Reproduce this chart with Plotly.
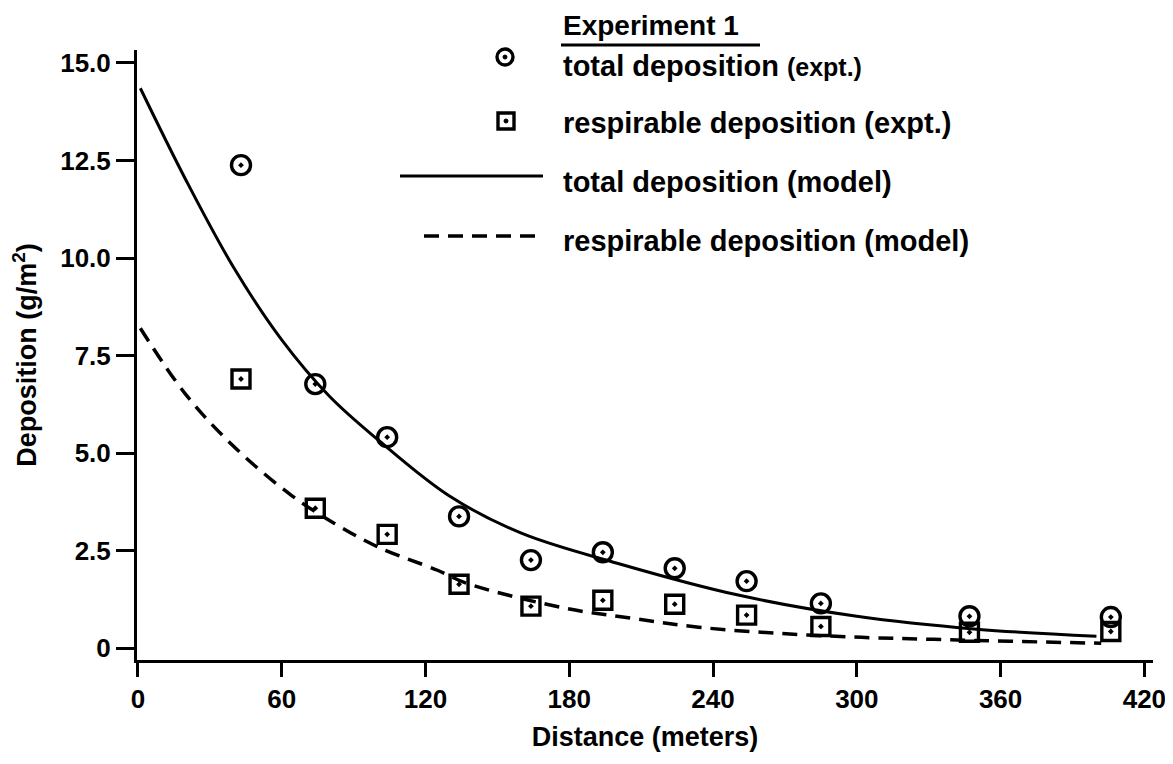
import plotly.graph_objects as go

# ---- data ----
dist_expt = [43, 74, 104, 134, 164, 194, 224, 254, 285, 347, 406]
total_expt = [12.38, 6.77, 5.41, 3.38, 2.26, 2.46, 2.05, 1.72, 1.15, 0.82, 0.80]
resp_expt = [6.90, 3.59, 2.92, 1.64, 1.08, 1.23, 1.13, 0.85, 0.56, 0.41, 0.43]

dist_model_total = [1, 20, 40, 60, 80, 100, 130, 160, 200, 250, 300, 350, 400]
total_model = [14.35, 12.0, 9.75, 7.9, 6.45, 5.35, 3.9, 2.95, 2.18, 1.37, 0.82, 0.49, 0.31]

dist_model_resp = [1, 20, 40, 64, 82, 100, 125, 137, 178, 206, 234, 268, 302, 332, 364, 402]
resp_model = [8.2, 6.5, 5.17, 3.92, 3.2, 2.6, 2.0, 1.67, 1.03, 0.77, 0.54, 0.38, 0.28, 0.23, 0.18, 0.13]

x_ticks = [0, 60, 120, 180, 240, 300, 360, 420]
y_ticks = [0, 2.5, 5.0, 7.5, 10.0, 12.5, 15.0]
y_tick_labels = ["0", "2.5", "5.0", "7.5", "10.0", "12.5", "15.0"]

FONT = "Liberation Sans, Arial, sans-serif"

fig = go.Figure()
fig.add_trace(go.Scatter(x=dist_model_total, y=total_model, mode="lines",
                         line=dict(color="black", width=3, shape="spline"),
                         showlegend=False))
fig.add_trace(go.Scatter(x=dist_model_resp, y=resp_model, mode="lines",
                         line=dict(color="black", width=3.5, shape="spline", dash="15px,9px"),
                         showlegend=False))
fig.add_trace(go.Scatter(x=dist_expt, y=total_expt, mode="markers",
                         marker=dict(symbol="circle-open-dot", size=19, color="black",
                                     line=dict(width=3.4, color="black")),
                         showlegend=False))
fig.add_trace(go.Scatter(x=dist_expt, y=resp_expt, mode="markers",
                         marker=dict(symbol="square-open-dot", size=18, color="black",
                                     line=dict(width=3.4, color="black")),
                         showlegend=False))

OFF = 8  # page body margin
W, H = 1173 - OFF, 764 - OFF
L, T = 137 - OFF, 50 - OFF
R = W - (1153 - OFF)
B = H - (660 - OFF)
pw, ph = W - L - R, H - T - B

def px(x):
    # page pixel -> paper fraction
    return (x - OFF - L) / pw

def py(y):
    return (H - B - (y - OFF)) / ph

shapes = []
annotations = []
# legend title
annotations.append(dict(x=px(561), y=py(25), xref="paper", yref="paper", xanchor="left",
                        yanchor="middle", showarrow=False, text="<b>Experiment 1</b>",
                        font=dict(size=28, family=FONT, color="black")))
shapes.append(dict(type="line", xref="paper", yref="paper", x0=px(561), x1=px(760),
                   y0=py(45), y1=py(45), line=dict(color="black", width=3)))
# circle symbol
cx, cy = 505, 57
shapes.append(dict(type="circle", xref="paper", yref="paper", x0=px(cx - 8), x1=px(cx + 8),
                   y0=py(cy + 8), y1=py(cy - 8), line=dict(color="black", width=3.4)))
shapes.append(dict(type="circle", xref="paper", yref="paper", x0=px(cx - 2), x1=px(cx + 2),
                   y0=py(cy + 2), y1=py(cy - 2), fillcolor="black", line=dict(color="black", width=1)))
# square symbol
sx, sy = 506, 121
shapes.append(dict(type="rect", xref="paper", yref="paper", x0=px(sx - 8), x1=px(sx + 8),
                   y0=py(sy + 8), y1=py(sy - 8), line=dict(color="black", width=3.4)))
shapes.append(dict(type="circle", xref="paper", yref="paper", x0=px(sx - 2), x1=px(sx + 2),
                   y0=py(sy + 2), y1=py(sy - 2), fillcolor="black", line=dict(color="black", width=1)))
# lines
shapes.append(dict(type="line", xref="paper", yref="paper", x0=px(400), x1=px(543),
                   y0=py(176), y1=py(176), line=dict(color="black", width=3)))
shapes.append(dict(type="line", xref="paper", yref="paper", x0=px(424), x1=px(543),
                   y0=py(236), y1=py(236), line=dict(color="black", width=3.5, dash="15px,9px")))

leg_texts = [
    (66, "<b>total deposition <span style='font-size:25px'>(expt.)</span></b>"),
    (123, "<b>respirable deposition (expt.)</b>"),
    (182, "<b>total deposition (model)</b>"),
    (241, "<b>respirable deposition (model)</b>"),
]
for yy, t in leg_texts:
    annotations.append(dict(x=px(561), y=py(yy), xref="paper", yref="paper", xanchor="left",
                            yanchor="middle", showarrow=False, text=t,
                            font=dict(size=29, family=FONT, color="black")))

fig.update_layout(
    width=W, height=H,
    margin=dict(l=L, r=R, t=T, b=B),
    paper_bgcolor="white", plot_bgcolor="white",
    font=dict(family=FONT, color="black", size=26),
    shapes=shapes, annotations=annotations,
    xaxis=dict(range=[-0.4, 423.6], tickvals=x_ticks, ticktext=[f"<b>{v}</b>" for v in x_ticks],
               showgrid=False, zeroline=False, showline=True, linecolor="black", linewidth=3,
               ticks="outside", ticklen=14, tickwidth=3, tickcolor="black",
               tickfont=dict(size=26, family=FONT), automargin=False,
               ticklabeloverflow="allow",
               title=dict(text="<b>Distance (meters)</b>", font=dict(size=27, family=FONT), standoff=14)),
    yaxis=dict(range=[-0.3, 15.33], tickvals=y_ticks, ticktext=[f"<b>{v}</b>" for v in y_tick_labels],
               showgrid=False, zeroline=False, showline=True, linecolor="black", linewidth=3,
               ticks="outside", ticklen=18, tickwidth=3, tickcolor="black",
               tickfont=dict(size=26, family=FONT), automargin=False,
               title=dict(text="<b>Deposition (g/m<sup>2</sup>)</b>", font=dict(size=27, family=FONT), standoff=23)),
)

fig.write_html("out.html")
